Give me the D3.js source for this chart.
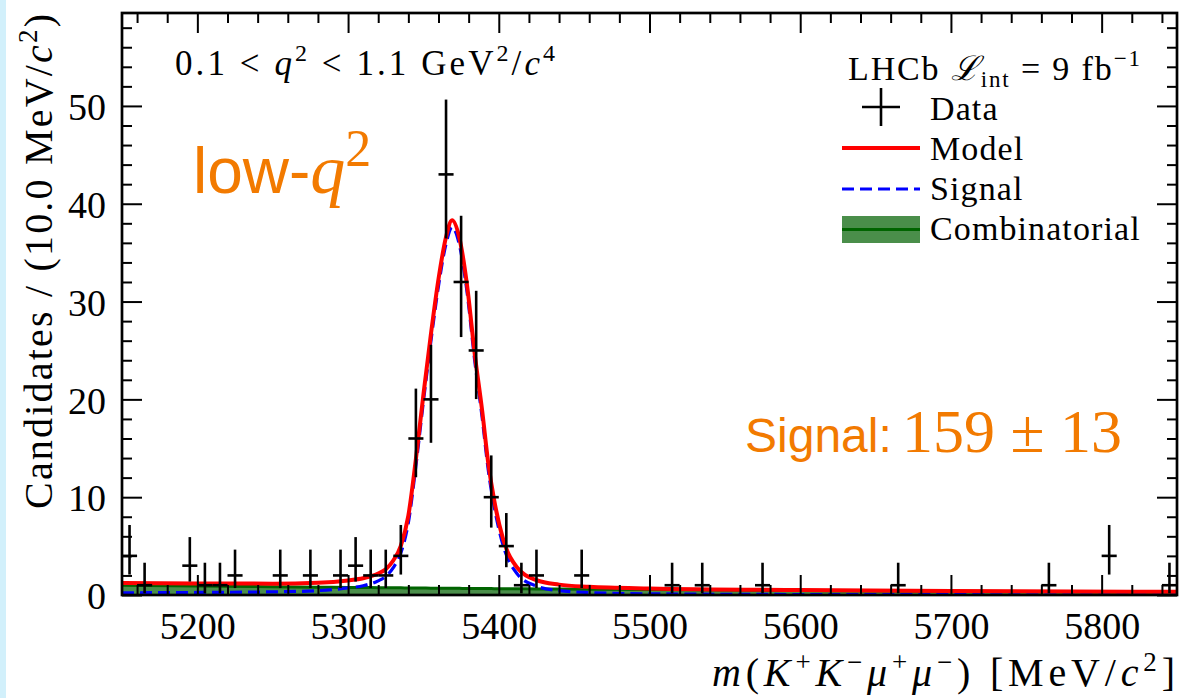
<!DOCTYPE html>
<html>
<head>
<meta charset="utf-8">
<script src="https://cdn.jsdelivr.net/npm/d3@7"></script>
<style>
  html, body { margin: 0; padding: 0; background: #fff; }
  svg text { font-family: "Liberation Serif", "DejaVu Serif", serif; fill: #000; }
  svg .sans { font-family: "Liberation Sans", Arial, sans-serif; }
</style>
</head>
<body>
<div id="chart"></div>
<script>
// ---- data ----
// bin centres (10 MeV bins) and candidate counts
var binCenters = [5155, 5165, 5195, 5205, 5215, 5225, 5255, 5275, 5295, 5305,
                  5315, 5325, 5335, 5345, 5355, 5365, 5375, 5385, 5395, 5405,
                  5415, 5425, 5455, 5515, 5535, 5575, 5665, 5765, 5805, 5845];
var counts = [4, 1, 3, 1, 1, 2, 2, 2, 2, 3,
              2, 2, 4, 16, 20, 43, 32, 25, 10, 5,
              1, 2, 2, 1, 1, 1, 1, 1, 4, 1];
// asymmetric (Poisson) error bars
var errLow = [1.91, 0.83, 1.63, 0.83, 0.83, 1.29, 1.29, 1.29, 1.29, 1.63,
              1.29, 1.29, 1.91, 3.96, 4.44, 6.55, 5.63, 4.97, 3.11, 2.16,
              0.83, 1.29, 1.29, 0.83, 0.83, 0.83, 0.83, 0.83, 1.91, 0.83];
var errHigh = [3.16, 2.30, 2.92, 2.30, 2.30, 2.64, 2.64, 2.64, 2.64, 2.92,
               2.64, 2.64, 3.16, 5.10, 5.58, 7.65, 6.77, 6.10, 4.27, 3.38,
               2.30, 2.64, 2.64, 2.30, 2.30, 2.30, 2.30, 2.30, 3.16, 2.30];

// fitted curves
var curveMass = [5150, 5200, 5250, 5280, 5300, 5310, 5320, 5325, 5330, 5335,
                 5340, 5345, 5350, 5355, 5360, 5365, 5369, 5374, 5379, 5384,
                 5389, 5393, 5397, 5403, 5412, 5425, 5440, 5460, 5500, 5600,
                 5700, 5850];
var modelVals = [1.22, 1.18, 1.16, 1.25, 1.49, 1.71, 2.20, 2.64, 3.53, 5.03,
                 8.12, 13.9, 20.5, 26.7, 32.3, 36.6, 38.3, 36.4, 31.6, 24.7,
                 18.8, 13.5, 9.65, 5.65, 2.84, 1.52, 1.06, 0.84, 0.67, 0.51,
                 0.42, 0.32];
var signalVals = [0.22, 0.26, 0.32, 0.45, 0.72, 0.95, 1.45, 1.90, 2.80, 4.30,
                  7.40, 13.2, 19.8, 26.0, 31.6, 35.9, 37.6, 35.7, 30.9, 24.0,
                  18.1, 12.8, 9.00, 5.00, 2.20, 0.90, 0.45, 0.25, 0.12, 0.05,
                  0.03, 0.02];
var combVals = [1.00, 0.92, 0.84, 0.80, 0.77, 0.76, 0.75, 0.74, 0.73, 0.73,
                0.72, 0.72, 0.71, 0.70, 0.70, 0.69, 0.69, 0.68, 0.67, 0.67,
                0.66, 0.66, 0.65, 0.65, 0.64, 0.62, 0.61, 0.59, 0.55, 0.46,
                0.39, 0.30];

var xTickLabels = [5200, 5300, 5400, 5500, 5600, 5700, 5800];
var yTickLabels = [0, 10, 20, 30, 40, 50];

(function () {
    "use strict";

    var svgWidth = 1179, svgHeight = 698;
    var margin = { top: 13, right: 2, bottom: 103, left: 122 };
    var plotRight = svgWidth - margin.right;
    var plotBottom = svgHeight - margin.bottom;
    var orange = '#f27a00';

    var svg = d3.select('#chart').append('svg')
        .attr('width', svgWidth)
        .attr('height', svgHeight);

    // light blue strip on the left edge of the slide
    svg.append('rect').attr('x', 0).attr('y', 0)
        .attr('width', 6).attr('height', svgHeight)
        .attr('fill', '#d2f0fb');

    var x = d3.scaleLinear().domain([5150, 5850]).range([margin.left, plotRight]);
    var y = d3.scaleLinear().domain([0, 59.5]).range([plotBottom, margin.top]);

    svg.append('clipPath').attr('id', 'plotClip')
        .append('rect')
        .attr('x', margin.left).attr('y', margin.top)
        .attr('width', plotRight - margin.left)
        .attr('height', plotBottom - margin.top);

    var chartLayer = svg.append('g').attr('clip-path', 'url(#plotClip)');

    // combinatorial background
    var combArea = d3.area()
        .x(function (d, i) { return x(curveMass[i]); })
        .y0(y(0))
        .y1(function (d) { return y(d); })
        .curve(d3.curveMonotoneX);
    var lineOf = function () {
        return d3.line()
            .x(function (d, i) { return x(curveMass[i]); })
            .y(function (d) { return y(d); })
            .curve(d3.curveMonotoneX);
    };

    chartLayer.append('path').datum(combVals)
        .attr('d', combArea)
        .attr('fill', '#4a8e4a');
    chartLayer.append('path').datum(combVals)
        .attr('d', lineOf())
        .attr('fill', 'none').attr('stroke', '#006400').attr('stroke-width', 3);

    // signal
    chartLayer.append('path').datum(signalVals)
        .attr('d', lineOf())
        .attr('fill', 'none').attr('stroke', '#0000ff')
        .attr('stroke-width', 3.2).attr('stroke-dasharray', '12,6');

    // total model
    chartLayer.append('path').datum(modelVals)
        .attr('d', lineOf())
        .attr('fill', 'none').attr('stroke', '#ff0000').attr('stroke-width', 4);

    // data points with error bars
    var pts = chartLayer.append('g').selectAll('g')
        .data(binCenters)
        .enter().append('g');
    pts.append('line')
        .attr('x1', function (d) { return x(d); })
        .attr('x2', function (d) { return x(d); })
        .attr('y1', function (d, i) { return y(counts[i] - errLow[i]); })
        .attr('y2', function (d, i) { return y(counts[i] + errHigh[i]); })
        .attr('stroke', '#000').attr('stroke-width', 2.6);
    pts.append('line')
        .attr('x1', function (d) { return x(d - 5); })
        .attr('x2', function (d) { return x(d + 5); })
        .attr('y1', function (d, i) { return y(counts[i]); })
        .attr('y2', function (d, i) { return y(counts[i]); })
        .attr('stroke', '#000').attr('stroke-width', 2.6);

    // ---- axes (ticks inward on all sides) ----
    var xMinor = d3.range(5160, 5850, 20).filter(function (v) { return v % 100 !== 0; });
    var yMinor = d3.range(2, 59.5, 2).filter(function (v) { return v % 10 !== 0; });

    var axisLayer = svg.append('g');
    var styleAxis = function (g) {
        g.select('.domain').remove();
        g.selectAll('.tick line').attr('stroke', '#000').attr('stroke-width', 2);
        g.selectAll('.tick text').attr('font-size', 38).attr('fill', '#000')
            .style('font-family', '"Liberation Serif", serif');
    };

    axisLayer.append('g')
        .attr('transform', 'translate(0,' + plotBottom + ')')
        .call(d3.axisBottom(x).tickValues(xTickLabels).tickSizeInner(-20)
            .tickSizeOuter(0).tickPadding(17).tickFormat(d3.format('d')))
        .call(styleAxis);
    axisLayer.append('g')
        .attr('transform', 'translate(0,' + plotBottom + ')')
        .call(d3.axisBottom(x).tickValues(xMinor).tickSizeInner(-10)
            .tickSizeOuter(0).tickFormat(''))
        .call(styleAxis);
    axisLayer.append('g')
        .attr('transform', 'translate(0,' + margin.top + ')')
        .call(d3.axisTop(x).tickValues(xTickLabels).tickSizeInner(-20)
            .tickSizeOuter(0).tickFormat(''))
        .call(styleAxis);
    axisLayer.append('g')
        .attr('transform', 'translate(0,' + margin.top + ')')
        .call(d3.axisTop(x).tickValues(xMinor).tickSizeInner(-10)
            .tickSizeOuter(0).tickFormat(''))
        .call(styleAxis);

    axisLayer.append('g')
        .attr('transform', 'translate(' + margin.left + ',0)')
        .call(d3.axisLeft(y).tickValues(yTickLabels).tickSizeInner(-20)
            .tickSizeOuter(0).tickPadding(16))
        .call(styleAxis)
        .call(function (g) { g.selectAll('.tick text').attr('dy', '0.36em'); });
    axisLayer.append('g')
        .attr('transform', 'translate(' + margin.left + ',0)')
        .call(d3.axisLeft(y).tickValues(yMinor).tickSizeInner(-10)
            .tickSizeOuter(0).tickFormat(''))
        .call(styleAxis);
    axisLayer.append('g')
        .attr('transform', 'translate(' + plotRight + ',0)')
        .call(d3.axisRight(y).tickValues(yTickLabels).tickSizeInner(-20)
            .tickSizeOuter(0).tickFormat(''))
        .call(styleAxis);
    axisLayer.append('g')
        .attr('transform', 'translate(' + plotRight + ',0)')
        .call(d3.axisRight(y).tickValues(yMinor).tickSizeInner(-10)
            .tickSizeOuter(0).tickFormat(''))
        .call(styleAxis);

    // frame
    axisLayer.append('rect')
        .attr('x', margin.left).attr('y', margin.top)
        .attr('width', plotRight - margin.left)
        .attr('height', plotBottom - margin.top)
        .attr('fill', 'none').attr('stroke', '#000').attr('stroke-width', 2.7);

    // ---- text helpers ----
    var richText = function (sel, parts) {
        var cur = 0;
        parts.forEach(function (p) {
            var s = p.shift || 0;
            var ts = sel.append('tspan').text(p.t).attr('dy', s - cur);
            cur = s;
            if (p.italic) { ts.attr('font-style', 'italic'); }
            if (p.size) { ts.attr('font-size', p.size); }
            if (p.sans) { ts.attr('class', 'sans'); }
            if (p.fill) { ts.style('fill', p.fill); }
        });
        return sel;
    };

    // axis titles
    var yTitle = svg.append('text')
        .attr('transform', 'translate(52,' + (margin.top + 1) + ') rotate(-90)')
        .attr('text-anchor', 'end')
        .attr('font-size', 40);
    richText(yTitle, [
        { t: 'Candidates / (10.0 MeV/' },
        { t: 'c', italic: true },
        { t: '2', size: 27, shift: -15 },
        { t: ')', shift: 0 }
    ]);
    yTitle.attr('textLength', 495).attr('lengthAdjust', 'spacing');

    var xTitle = svg.append('text')
        .attr('x', 1175).attr('y', 686)
        .attr('text-anchor', 'end')
        .attr('font-size', 40);
    richText(xTitle, [
        { t: 'm', italic: true },
        { t: '(' },
        { t: 'K', italic: true },
        { t: '+', size: 27, shift: -15 },
        { t: 'K', italic: true, shift: 0 },
        { t: '\u2212', size: 27, shift: -15 },
        { t: '\u03bc', italic: true, shift: 0 },
        { t: '+', size: 27, shift: -15 },
        { t: '\u03bc', italic: true, shift: 0 },
        { t: '\u2212', size: 27, shift: -15 },
        { t: ') [MeV/', shift: 0 },
        { t: 'c', italic: true },
        { t: '2', size: 27, shift: -15 },
        { t: ']', shift: 0 }
    ]);
    xTitle.attr('textLength', 463).attr('lengthAdjust', 'spacing');

    // q^2 range annotation
    var qRange = svg.append('text')
        .attr('x', 175).attr('y', 75)
        .attr('font-size', 35);
    richText(qRange, [
        { t: '0.1 < ' },
        { t: 'q', italic: true },
        { t: '2', size: 24, shift: -14 },
        { t: ' < 1.1 GeV', shift: 0 },
        { t: '2', size: 24, shift: -14 },
        { t: '/', shift: 0 },
        { t: 'c', italic: true },
        { t: '4', size: 24, shift: -14 }
    ]);
    qRange.attr('textLength', 380).attr('lengthAdjust', 'spacing');

    // orange labels
    var lowQ = svg.append('text')
        .attr('x', 193).attr('y', 193)
        .style('fill', orange);
    richText(lowQ, [
        { t: 'low-', sans: true, size: 64, fill: orange },
        { t: 'q', italic: true, size: 70, fill: orange },
        { t: '2', size: 52, shift: -27, fill: orange }
    ]);

    svg.append('text')
        .attr('class', 'sans')
        .attr('x', 745).attr('y', 452)
        .attr('font-size', 48)
        .style('fill', orange)
        .text('Signal:');
    svg.append('text')
        .attr('x', 902).attr('y', 452)
        .attr('font-size', 62)
        .style('fill', orange)
        .text('159 \u00b1 13');

    // ---- legend ----
    var legend = svg.append('g');
    var lhcb = legend.append('text')
        .attr('x', 848).attr('y', 80)
        .attr('font-size', 34);
    richText(lhcb, [
        { t: 'LHCb ' },
        { t: '\u2112', italic: true },
        { t: 'int', size: 23, shift: 7 },
        { t: ' = 9 fb', shift: 0 },
        { t: '\u22121', size: 23, shift: -14 }
    ]);
    lhcb.attr('textLength', 292).attr('lengthAdjust', 'spacing');

    var legendNames = ['Data', 'Model', 'Signal', 'Combinatorial'];
    legend.selectAll('text.entry')
        .data(legendNames)
        .enter().append('text')
        .attr('class', 'entry')
        .attr('x', 930)
        .attr('y', function (d, i) { return 120 + i * 40; })
        .attr('font-size', 34)
        .attr('letter-spacing', 1.1)
        .text(function (d) { return d; });

    // data marker
    legend.append('line').attr('x1', 862).attr('x2', 900).attr('y1', 107).attr('y2', 107)
        .attr('stroke', '#000').attr('stroke-width', 2.6);
    legend.append('line').attr('x1', 881).attr('x2', 881).attr('y1', 88).attr('y2', 126)
        .attr('stroke', '#000').attr('stroke-width', 2.6);
    // model
    legend.append('line').attr('x1', 842).attr('x2', 920).attr('y1', 148).attr('y2', 148)
        .attr('stroke', '#ff0000').attr('stroke-width', 4);
    // signal
    legend.append('line').attr('x1', 842).attr('x2', 920).attr('y1', 189).attr('y2', 189)
        .attr('stroke', '#0000ff').attr('stroke-width', 3.2).attr('stroke-dasharray', '12,6');
    // combinatorial
    legend.append('rect').attr('x', 842).attr('y', 216).attr('width', 78).attr('height', 27)
        .attr('fill', '#4a8e4a');
    legend.append('line').attr('x1', 842).attr('x2', 920).attr('y1', 229.5).attr('y2', 229.5)
        .attr('stroke', '#006400').attr('stroke-width', 3);
})();
</script>
</body>
</html>
